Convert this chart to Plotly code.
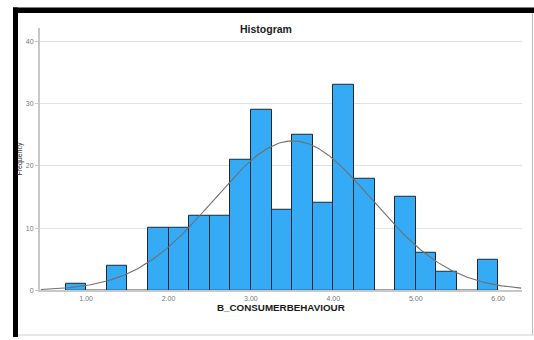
import numpy as np
import plotly.graph_objects as go

# Binned frequencies of B_CONSUMERBEHAVIOUR (bin width 0.25, first bin starts at 0.75)
bin_start = 0.75
bin_width = 0.25
counts = [1, 0, 4, 0, 10, 10, 12, 12, 21, 29, 13, 25, 14, 33, 18, 0, 15, 6, 3, 0, 5]
bin_centers = [bin_start + bin_width * (i + 0.5) for i in range(len(counts))]

# Fitted normal curve parameters
mean_val = 3.51
sd_val = 0.96
n_total = sum(counts)

x_ticks = [1, 2, 3, 4, 5, 6]
x_tick_labels = ["1.00", "2.00", "3.00", "4.00", "5.00", "6.00"]
y_ticks = [0, 10, 20, 30, 40]

W, H = 534, 340
x_range = [0.44, 6.29]
y_range = [0, 42.16]

curve_x = np.linspace(x_range[0] + 0.01, x_range[1] - 0.01, 300)
curve_y = n_total * bin_width * np.exp(-0.5 * ((curve_x - mean_val) / sd_val) ** 2) / (sd_val * np.sqrt(2 * np.pi))

fig = go.Figure()
fig.add_trace(go.Bar(
    x=bin_centers, y=counts, width=bin_width,
    marker=dict(color="#35AAF5", line=dict(color="#1c2a38", width=1)),
    hoverinfo="x+y",
))
fig.add_trace(go.Scatter(
    x=curve_x, y=curve_y, mode="lines",
    line=dict(color="#707070", width=1.1),
    hoverinfo="skip",
))

def px_x(p):
    return p / W

def px_y(p):
    return 1 - p / H

fig.update_layout(
    width=W, height=H,
    margin=dict(l=0, r=0, t=0, b=0),
    paper_bgcolor="white", plot_bgcolor="white",
    showlegend=False,
    bargap=0,
    font=dict(family="Liberation Sans, Arial, sans-serif", color="#555"),
    xaxis=dict(
        domain=[px_x(40), px_x(522)],
        range=x_range,
        tickvals=x_ticks, ticktext=x_tick_labels,
        tickfont=dict(size=7, color="#777"),
        showgrid=False, zeroline=False,
        showline=True, linecolor="#c8c8c8", linewidth=1.5,
        ticks="", ticklen=0,
    ),
    yaxis=dict(
        domain=[px_y(293), px_y(28)],
        range=y_range,
        tickvals=y_ticks,
        tickfont=dict(size=7, color="#777"),
        showgrid=True, gridcolor="#e2e2e2", gridwidth=1,
        zeroline=False,
        showline=True, linecolor="#c8c8c8", linewidth=2,
        ticks="outside", ticklen=3, tickcolor="#c8c8c8",
    ),
    annotations=[
        dict(text="<b>Histogram</b>", x=px_x(266), y=px_y(21), xref="paper", yref="paper",
             showarrow=False, font=dict(size=10.5, color="#222")),
        dict(text="<b>B_CONSUMERBEHAVIOUR</b>", x=px_x(281), y=px_y(318), xref="paper", yref="paper",
             showarrow=False, font=dict(size=9.8, color="#1a1a1a")),
        dict(text="Frequency", x=px_x(14), y=px_y(160), xref="paper", yref="paper",
             showarrow=False, textangle=-90, font=dict(size=7, color="#333")),
    ],
    shapes=[
        # outer frame: heavy black edges on the left and top, thin grey on the right and bottom
        dict(type="line", xref="paper", yref="paper", x0=px_x(532.5), x1=px_x(532.5),
             y0=px_y(12), y1=px_y(338), line=dict(color="#bdbdbd", width=1)),
        dict(type="line", xref="paper", yref="paper", x0=px_x(16), x1=px_x(534),
             y0=px_y(338), y1=px_y(338), line=dict(color="#cfcfcf", width=1)),
        dict(type="rect", xref="paper", yref="paper", x0=px_x(13), x1=px_x(534),
             y0=px_y(13), y1=px_y(7.5), fillcolor="black", line=dict(width=0), layer="above"),
        dict(type="rect", xref="paper", yref="paper", x0=px_x(13), x1=px_x(18),
             y0=px_y(340), y1=px_y(7.5), fillcolor="black", line=dict(width=0), layer="above"),
    ],
)

fig.write_html("out.html")
